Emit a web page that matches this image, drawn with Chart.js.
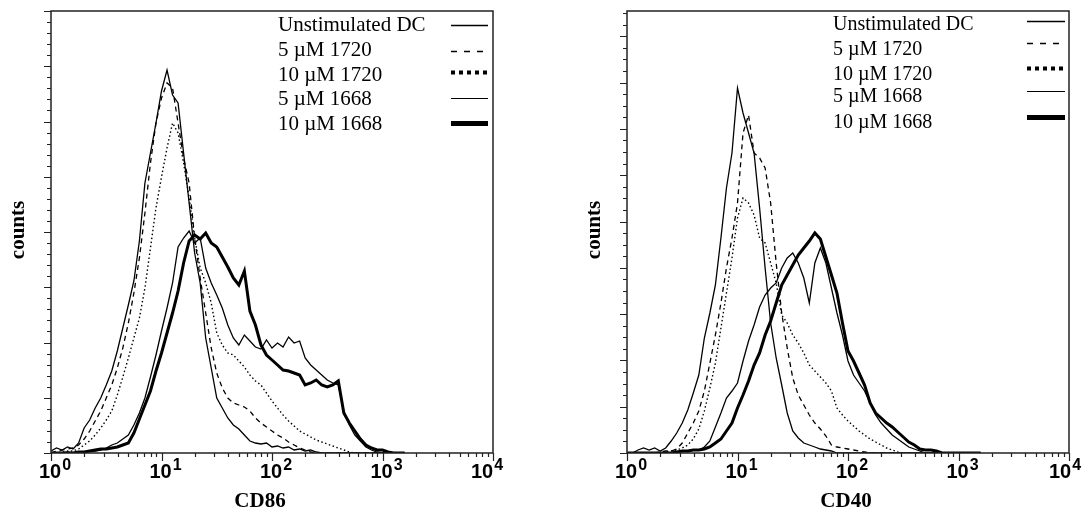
<!DOCTYPE html>
<html>
<head>
<meta charset="utf-8">
<script src="https://cdn.jsdelivr.net/npm/chart.js@4.4.0/dist/chart.umd.min.js"></script>
<style>
  body { margin: 0; background: #fff; }
  #wrap { position: relative; width: 1085px; height: 515px; }
  canvas { position: absolute; top: 0; }
  #cd86 { left: 0; }
  #cd40 { left: 545px; }
</style>
</head>
<body>
<div id="wrap">
  <canvas id="cd86" width="545" height="515"></canvas>
  <canvas id="cd40" width="540" height="515"></canvas>
</div>
<script>
// channel positions, log10 of fluorescence intensity
const channelExp = [0.00,0.05,0.10,0.15,0.20,0.25,0.30,0.35,0.40,0.45,0.50,0.55,0.60,0.65,0.70,0.75,0.80,0.85,0.90,0.95,
  1.00,1.05,1.10,1.15,1.20,1.25,1.30,1.35,1.40,1.45,1.50,1.55,1.60,1.65,1.70,1.75,1.80,1.85,1.90,1.95,
  2.00,2.05,2.10,2.15,2.20,2.25,2.30,2.35,2.40,2.45,2.50,2.55,2.60,2.65,2.70,2.75,2.80,2.85,2.90,2.95,
  3.00,3.05,3.10,3.15,3.20]

const seriesNames = ['Unstimulated DC', '5 µM 1720', '10 µM 1720', '5 µM 1668', '10 µM 1668']
const decadeValues = [1, 10, 100, 1000, 10000]
const decadeLabels = ['0', '1', '2', '3', '4']

// CD86 panel
const cd86Unstim = [2,5,3,6,4,10,25,33,45,55, 68,82,102,125,148,172,212,270,300,330,
  362,383,358,350,300,250,200,170,115,85, 55,45,35,28,24,18,12,10,9,10,
  6,7,5,6,3,4,2,3,1,0, 0,0,0,0,0,0,0,0,0,0, 0,0,0,0,0]
const cd86_1720_5 = [0,2,3,4,5,8,14,22,32,42, 55,68,85,105,130,160,195,240,290,330,
  355,370,365,330,295,270,215,175,140,105, 80,65,55,50,48,46,42,35,30,26,
  22,18,15,11,8,5,3,1,0,0, 0,0,0,0,0,0,0,0,0,0, 0,0,0,0,0]
const cd86_1720_10 = [0,0,1,2,2,4,8,12,18,25, 33,42,58,76,95,115,135,165,205,245,
  276,305,330,320,290,255,215,185,170,150, 120,108,100,98,92,86,78,72,68,60,
  52,45,38,32,27,22,19,16,13,11, 9,7,5,3,1,0,0,0,0,0, 0,0,0,0,0]
const cd86_1668_5 = [0,0,0,1,0,1,1,2,2,3, 5,8,10,14,18,28,40,55,76,98,
  122,145,170,206,215,222,210,215,185,170, 158,145,128,115,108,118,112,106,104,113,
  105,110,106,116,110,112,95,88,83,78, 73,70,68,42,28,18,12,6,3,1, 0,0,0,0,0]
const cd86_1668_10 = [0,0,0,0,0,1,1,2,3,4, 4,5,6,8,10,20,34,48,62,82,
  100,120,140,162,190,212,218,214,220,210, 206,196,186,175,168,182,142,128,108,98,
  93,88,83,82,80,78,68,70,73,68, 66,68,72,40,30,22,14,8,5,3, 3,1,0,0,0]

// CD40 panel
const cd40Unstim = [0,0,3,5,3,5,2,5,12,20, 30,43,60,78,115,140,168,215,265,300,
  365,340,320,300,245,185,130,95,68,40, 22,15,10,8,6,4,3,2,0,0,
  0,0,0,0,0,0,0,0,0,0, 0,0,0,0,0,0,0,0,0,0, 0,0,0,0,0]
const cd40_1720_5 = [0,0,0,0,0,0,1,2,2,4, 10,20,30,42,62,90,118,150,185,215,
  250,320,338,300,295,285,250,190,140,105, 75,58,48,38,30,24,17,8,6,5,
  4,3,2,1,0,0,0,0,0,0, 0,0,0,0,0,0,0,0,0,0, 0,0,0,0,0]
const cd40_1720_10 = [0,0,0,0,0,0,0,1,2,3, 5,8,14,24,42,65,90,125,160,195,
  235,255,250,238,215,210,190,170,138,130, 118,110,100,88,82,76,70,62,45,38,
  32,27,22,18,14,11,8,5,3,1, 0,0,0,0,0,0,0,0,0,0, 0,0,0,0,0]
const cd40_1668_5 = [0,0,0,0,0,0,0,0,0,1, 2,2,3,3,6,12,26,40,55,62,
  70,92,112,128,146,158,165,170,185,195, 200,190,175,150,190,205,190,165,140,118,
  92,78,70,62,50,38,30,24,18,14, 10,6,4,2,0,0,0,0,0,0, 0,0,0,0,0]
const cd40_1668_10 = [0,0,0,0,0,0,0,0,0,1, 2,2,3,3,4,6,10,14,22,30,
  45,58,72,88,100,118,132,150,168,178, 188,198,205,212,220,214,196,178,160,130,
  102,92,80,68,50,40,35,30,26,21, 16,11,8,4,3,3,2,0,0,0, 0,0,0,0,0]

const lineStyles = [
  {width: 1.3, dash: []},
  {width: 1.3, dash: [5, 4]},
  {width: 1.4, dash: [1.5, 2.5]},
  {width: 1.3, dash: []},
  {width: 3, dash: []}
]
const legendStyles = [
  {width: 1.5, dash: []},
  {width: 1.5, dash: [6, 7]},
  {width: 4, dash: [4, 4]},
  {width: 1, dash: []},
  {width: 5, dash: []}
]

const serifFont = '"Liberation Serif", "Times New Roman", serif'
const sansFont = '"Liberation Sans", Arial, sans-serif'

const flowAxes = {
  id: 'flowAxes',
  afterDraw(chart, args, opts) {
    const ctx = chart.ctx
    const area = chart.chartArea
    const xs = chart.scales.x
    const ys = chart.scales.y
    ctx.save()
    ctx.strokeStyle = '#222'
    ctx.fillStyle = '#000'

    // frame
    ctx.lineWidth = 1.5
    ctx.setLineDash([])
    ctx.strokeRect(area.left, area.top, area.right - area.left, area.bottom - area.top)

    // count ticks on the left edge
    ctx.lineWidth = 1.2
    ctx.beginPath()
    for (let i = 0; i * opts.yStep <= ys.max + 0.5; i++) {
      const y = Math.round(ys.getPixelForValue(i * opts.yStep)) + 0.5
      const len = i % opts.yMajor === 0 ? 7 : 4
      ctx.moveTo(area.left - len, y)
      ctx.lineTo(area.left, y)
    }
    // log ticks on the bottom edge
    for (let d = 0; d < 4; d++) {
      for (let m = 1; m < 10; m++) {
        const x = Math.round(xs.getPixelForValue(m * decadeValues[d])) + 0.5
        const len = m === 1 ? 8 : 4
        ctx.moveTo(x, area.bottom)
        ctx.lineTo(x, area.bottom + len)
      }
    }
    const xEnd = Math.round(xs.getPixelForValue(decadeValues[4])) + 0.5
    ctx.moveTo(xEnd, area.bottom)
    ctx.lineTo(xEnd, area.bottom + 8)
    ctx.stroke()

    // decade labels 10^n
    ctx.textBaseline = 'alphabetic'
    ctx.textAlign = 'left'
    decadeValues.forEach((v, i) => {
      const x = xs.getPixelForValue(v)
      const left = x + (i === 4 ? opts.lastLabelShift : -12)
      ctx.font = 'bold 20px ' + sansFont
      ctx.fillText('10', left, 478)
      const w = ctx.measureText('10').width
      ctx.font = 'bold 16px ' + sansFont
      ctx.fillText(decadeLabels[i], left + w + 1, 470)
    })

    // axis titles
    ctx.font = 'bold 21px ' + serifFont
    ctx.textAlign = 'center'
    ctx.textBaseline = 'middle'
    ctx.fillText(opts.title, opts.titleX, 502)
    ctx.save()
    ctx.translate(opts.countsX, 230)
    ctx.rotate(-Math.PI / 2)
    ctx.fillText('counts', 0, 0)
    ctx.restore()

    // legend: names on the left, line samples on the right
    ctx.font = opts.legendSize + 'px ' + serifFont
    ctx.textAlign = 'left'
    ctx.strokeStyle = '#000'
    seriesNames.forEach((name, i) => {
      ctx.fillText(name, opts.legendX, opts.textRows[i])
      const st = legendStyles[i]
      ctx.lineWidth = st.width
      ctx.setLineDash(st.dash)
      ctx.beginPath()
      ctx.moveTo(opts.sampleX[0], opts.sampleRows[i] + 0.5)
      ctx.lineTo(opts.sampleX[1], opts.sampleRows[i] + 0.5)
      ctx.stroke()
    })
    ctx.restore()
  }
}

function makePanel(id, values, padding, panelOpts) {
  const datasets = values.map((vals, i) => ({
    label: seriesNames[i],
    data: channelExp.map((e, j) => ({x: Math.pow(10, e), y: vals[j]})),
    borderColor: '#000',
    borderWidth: lineStyles[i].width,
    borderDash: lineStyles[i].dash,
    pointRadius: 0,
    tension: 0,
    fill: false
  }))
  return new Chart(document.getElementById(id), {
    type: 'line',
    data: {datasets: datasets},
    options: {
      responsive: false,
      animation: false,
      events: [],
      layout: {padding: padding},
      scales: {
        x: {type: 'logarithmic', min: 1, max: 10000, display: false},
        y: {type: 'linear', min: 0, max: 442, display: false}
      },
      plugins: {
        legend: {display: false},
        tooltip: {enabled: false},
        flowAxes: panelOpts
      }
    },
    plugins: [flowAxes]
  })
}

makePanel('cd86',
  [cd86Unstim, cd86_1720_5, cd86_1720_10, cd86_1668_5, cd86_1668_10],
  {left: 51, right: 52, top: 11, bottom: 62},
  {
    yStep: 11.05, yMajor: 5,
    title: 'CD86', titleX: 260, countsX: 19,
    legendX: 278, legendSize: 21,
    textRows: [25, 50, 75, 99, 124],
    sampleRows: [25, 51, 72, 98, 123],
    sampleX: [451, 488],
    lastLabelShift: -22
  })

makePanel('cd40',
  [cd40Unstim, cd40_1720_5, cd40_1720_10, cd40_1668_5, cd40_1668_10],
  {left: 82, right: 16, top: 11, bottom: 62},
  {
    yStep: 11.575, yMajor: 4,
    title: 'CD40', titleX: 301, countsX: 50,
    legendX: 288, legendSize: 20,
    textRows: [25, 50, 75, 97, 123],
    sampleRows: [21, 43, 68, 91, 117],
    sampleX: [482, 520],
    lastLabelShift: -20
  })
</script>
</body>
</html>
